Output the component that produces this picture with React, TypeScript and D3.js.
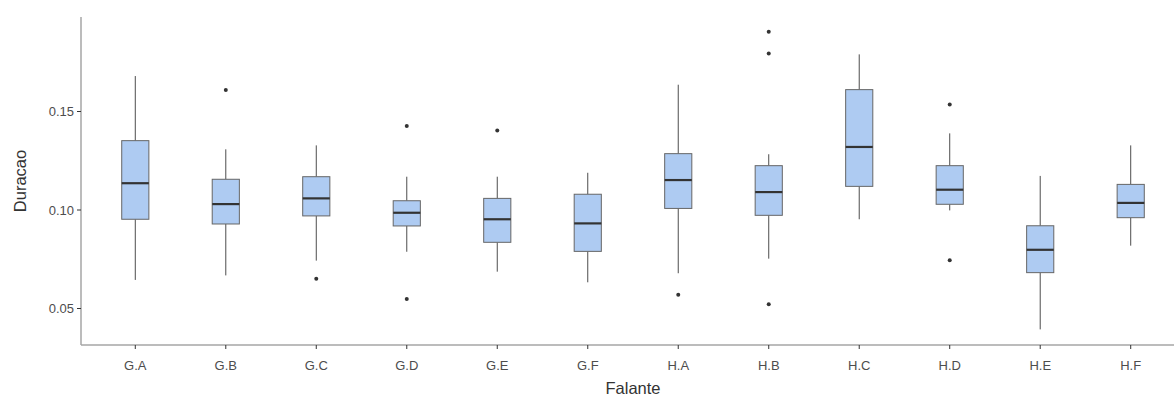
import React, { useEffect, useRef } from "react";
import * as d3 from "d3";

// five-number summaries (Duracao per Falante)
const falantes = ["G.A", "G.B", "G.C", "G.D", "G.E", "G.F", "H.A", "H.B", "H.C", "H.D", "H.E", "H.F"];
const whiskerLow = [0.0645, 0.0668, 0.0743, 0.0788, 0.0687, 0.0633, 0.0679, 0.0753, 0.0953, 0.0998, 0.0394, 0.0819];
const q1 = [0.0953, 0.0929, 0.097, 0.0919, 0.0836, 0.079, 0.1008, 0.0973, 0.112, 0.1029, 0.0682, 0.0961];
const medians = [0.1136, 0.103, 0.1059, 0.0986, 0.0953, 0.0932, 0.1152, 0.1091, 0.132, 0.1103, 0.0798, 0.1036];
const q3 = [0.1352, 0.1156, 0.1169, 0.1047, 0.1059, 0.108, 0.1286, 0.1225, 0.1611, 0.1225, 0.092, 0.113];
const whiskerHigh = [0.168, 0.1308, 0.1328, 0.1169, 0.1169, 0.1189, 0.1636, 0.1283, 0.179, 0.1389, 0.1173, 0.1328];
const outliers = [[], [0.1609], [0.0651], [0.1426, 0.0548], [0.1403], [], [0.057], [0.1905, 0.1795, 0.0521], [], [0.1535, 0.0745], [], []];
const yTicks = [0.05, 0.1, 0.15];

const App = () => {
  const svgRef = useRef(null);

  useEffect(() => {
    document.body.style.margin = "0";
    const svg = d3.select(svgRef.current);
    svg.selectAll("*").remove();

    const width = 1174,
      height = 400;
    const left = 81,
      top = 17,
      bottom = 345;
    const font = "'Liberation Sans', Arial, sans-serif";

    svg.attr("width", width).attr("height", height);

    // ggplot style discrete axis: 0.6 expansion on each side
    const x = d3.scaleLinear().domain([0.4, 12.6]).range([left, 1185]);
    const y = d3.scaleLinear().domain([0.1, 0.15]).range([210, 111.5]);
    const boxW = x(1.15) - x(0.85);

    const data = falantes.map((f, i) => ({
      f,
      cx: x(i + 1),
      lo: whiskerLow[i],
      q1: q1[i],
      med: medians[i],
      q3: q3[i],
      hi: whiskerHigh[i],
      out: outliers[i],
    }));

    const g = svg.append("g");
    const boxes = g.selectAll("g.box").data(data).enter().append("g");

    boxes
      .append("line")
      .attr("x1", (d) => d.cx)
      .attr("x2", (d) => d.cx)
      .attr("y1", (d) => y(d.q3))
      .attr("y2", (d) => y(d.hi))
      .attr("stroke", "#4d4d4d")
      .attr("stroke-width", 1);
    boxes
      .append("line")
      .attr("x1", (d) => d.cx)
      .attr("x2", (d) => d.cx)
      .attr("y1", (d) => y(d.q1))
      .attr("y2", (d) => y(d.lo))
      .attr("stroke", "#4d4d4d")
      .attr("stroke-width", 1);

    boxes
      .append("rect")
      .attr("x", (d) => d.cx - boxW / 2)
      .attr("width", boxW)
      .attr("y", (d) => y(d.q3))
      .attr("height", (d) => y(d.q1) - y(d.q3))
      .attr("fill", "#aecbf2")
      .attr("stroke", "#666")
      .attr("stroke-width", 1);

    boxes
      .append("line")
      .attr("x1", (d) => d.cx - boxW / 2)
      .attr("x2", (d) => d.cx + boxW / 2)
      .attr("y1", (d) => y(d.med))
      .attr("y2", (d) => y(d.med))
      .attr("stroke", "#333")
      .attr("stroke-width", 2.2);

    boxes
      .selectAll("circle")
      .data((d) => d.out.map((v) => ({ cx: d.cx, v })))
      .enter()
      .append("circle")
      .attr("cx", (d) => d.cx)
      .attr("cy", (d) => y(d.v))
      .attr("r", 2)
      .attr("fill", "#333");

    // axes
    svg
      .append("line")
      .attr("x1", left)
      .attr("x2", left)
      .attr("y1", top)
      .attr("y2", bottom)
      .attr("stroke", "#a6a6a6")
      .attr("stroke-width", 1.5);
    svg
      .append("line")
      .attr("x1", left)
      .attr("x2", width)
      .attr("y1", bottom)
      .attr("y2", bottom)
      .attr("stroke", "#a6a6a6")
      .attr("stroke-width", 1.5);

    const yt = svg.selectAll("g.yt").data(yTicks).enter().append("g");
    yt.append("line")
      .attr("x1", left - 4)
      .attr("x2", left)
      .attr("y1", (d) => y(d))
      .attr("y2", (d) => y(d))
      .attr("stroke", "#333");
    yt.append("text")
      .attr("x", left - 7)
      .attr("y", (d) => y(d))
      .attr("dy", "0.35em")
      .attr("text-anchor", "end")
      .attr("font-family", font)
      .attr("font-size", 13)
      .attr("fill", "#4d4d4d")
      .text((d) => d3.format(".2f")(d));

    const xt = svg.selectAll("g.xt").data(data).enter().append("g");
    xt.append("line")
      .attr("x1", (d) => d.cx)
      .attr("x2", (d) => d.cx)
      .attr("y1", bottom)
      .attr("y2", bottom + 4)
      .attr("stroke", "#333");
    xt.append("text")
      .attr("x", (d) => d.cx)
      .attr("y", bottom + 20)
      .attr("dy", "0.35em")
      .attr("text-anchor", "middle")
      .attr("font-family", font)
      .attr("font-size", 13)
      .attr("fill", "#4d4d4d")
      .text((d) => d.f);

    svg
      .append("text")
      .attr("x", (left + 1185) / 2)
      .attr("y", 394)
      .attr("text-anchor", "middle")
      .attr("font-family", font)
      .attr("font-size", 16.5)
      .attr("fill", "#333")
      .text("Falante");

    svg
      .append("text")
      .attr("transform", `translate(26, ${(top + bottom) / 2}) rotate(-90)`)
      .attr("text-anchor", "middle")
      .attr("font-family", font)
      .attr("font-size", 16.5)
      .attr("fill", "#333")
      .text("Duracao");
  }, []);

  return <svg ref={svgRef}></svg>;
};

export default App;
